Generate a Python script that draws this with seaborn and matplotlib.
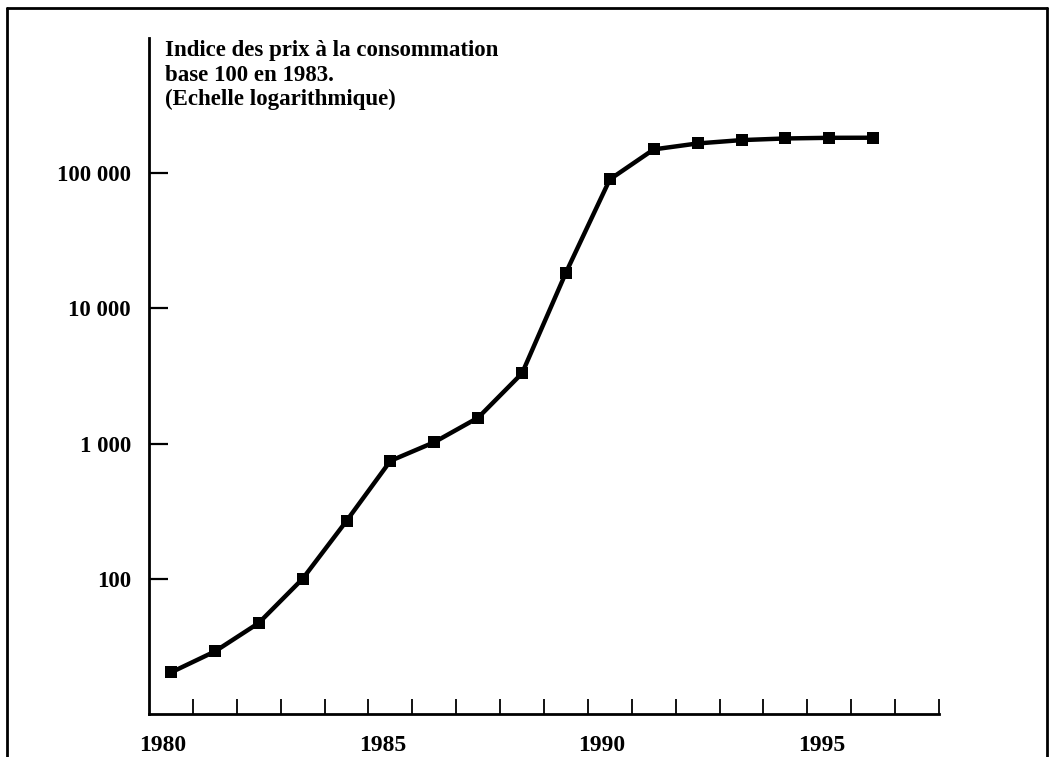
import numpy as np
import pandas as pd
import seaborn as sns
import matplotlib.pyplot as plt
import matplotlib.transforms as mtransforms
from matplotlib.lines import Line2D
from matplotlib.ticker import FixedLocator, NullFormatter

years = list(range(1980, 1997))
cpi = [20.3, 29.0, 47.1, 100, 268, 745, 1024, 1556, 3311, 18400,
       90000, 150000, 166000, 175700, 180700, 182700, 183000]
ytick_vals = [100, 1000, 10000, 100000]
ytick_labels = ['100', '1 000', '10 000', '100 000']
xtick_vals = [1980, 1985, 1990, 1995]

df = pd.DataFrame({'annee': years, 'indice': cpi})

sns.set_style('white')
plt.rcParams['font.family'] = ['Liberation Serif', 'DejaVu Serif']
plt.rcParams['font.weight'] = 'bold'
plt.rcParams['text.color'] = 'black'

fig = plt.figure(figsize=(10.53, 7.57), dpi=100)
ax = fig.add_axes([149 / 1053, 43 / 757, 790 / 1053, 676 / 757])

sns.lineplot(data=df, x='annee', y='indice', ax=ax, color='black',
             linewidth=3.2, marker='s', markersize=8, markeredgewidth=0)

ax.set_yscale('log')
ax.set_ylim(10, 1e6)
ax.set_xlim(1979.5, 1997.5)
ax.set_xlabel('')
ax.set_ylabel('')

ax.set_yticks(ytick_vals)
ax.set_yticklabels(ytick_labels)
ax.yaxis.set_minor_locator(FixedLocator([]))
ax.yaxis.set_minor_formatter(NullFormatter())
ax.tick_params(axis='y', which='major', direction='in', length=14, width=1.6,
               pad=13, labelsize=16.5, left=True, colors='black')

ax.set_xticks(xtick_vals)
ax.set_xticklabels([str(y) for y in xtick_vals])
ax.xaxis.set_minor_locator(FixedLocator(np.arange(1980.5, 1998, 1.0)))
ax.tick_params(axis='x', which='major', length=0, pad=15, labelsize=17,
               colors='black')
ax.tick_params(axis='x', which='minor', direction='in', length=11, width=1.3,
               bottom=True, colors='black')
shift = mtransforms.ScaledTranslation(-0.08, 0, fig.dpi_scale_trans)
for lab in ax.get_xticklabels():
    lab.set_transform(lab.get_transform() + shift)
    lab.set_fontweight('bold')
for lab in ax.get_yticklabels():
    lab.set_fontweight('bold')

sns.despine(ax=ax, top=True, right=True)
for side in ['left', 'bottom']:
    ax.spines[side].set_linewidth(2)
    ax.spines[side].set_color('black')

fig.text(165 / 1053, 1 - 40 / 757,
         'Indice des prix à la consommation\nbase 100 en 1983.\n(Echelle logarithmique)',
         ha='left', va='top', fontsize=16.5, fontweight='bold', linespacing=1.22,
         color='black')

# cadre de la figure
fig.add_artist(Line2D([7 / 1053, 7 / 1053], [0, 1 - 8 / 757], color='black', lw=2))
fig.add_artist(Line2D([7 / 1053, 1047 / 1053], [1 - 8 / 757, 1 - 8 / 757], color='black', lw=2))
fig.add_artist(Line2D([1047 / 1053, 1047 / 1053], [0, 1 - 8 / 757], color='black', lw=2))

plt.savefig('out.png', dpi=100)
